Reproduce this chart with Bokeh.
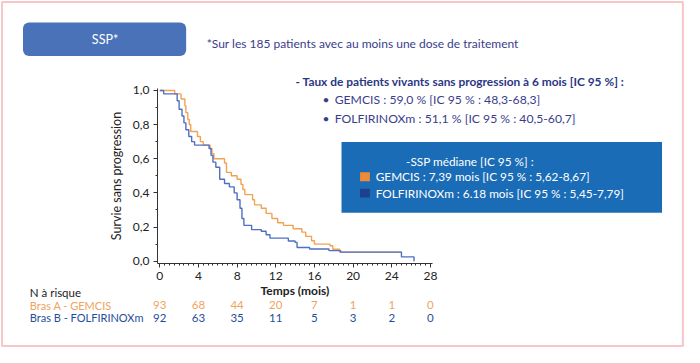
from bokeh.plotting import figure
from bokeh.models import Label, BoxAnnotation, FixedTicker, CustomJSTickFormatter, Range1d
from bokeh.embed import file_html
from bokeh.resources import INLINE

# ---------------- data ----------------
gem_t = [0, 1.55, 2.2, 2.6, 2.7, 2.9, 3.05, 3.2, 3.9, 4.2, 4.5, 5.2, 5.4, 5.6, 6.7, 6.9, 7.4, 8.0, 8.4, 8.6,
         8.8, 9.6, 9.8, 10.5, 11.0, 11.6, 12.2, 12.8, 13.8, 14.7, 15.1, 15.7, 16.0, 17.6, 17.9, 18.6, 25.0]
gem_s = [1.0, 0.98, 0.95, 0.91, 0.87, 0.83, 0.80, 0.76, 0.73, 0.70, 0.68, 0.66, 0.63, 0.60, 0.575, 0.52, 0.50, 0.48, 0.45, 0.42,
         0.39, 0.36, 0.33, 0.31, 0.28, 0.25, 0.225, 0.21, 0.19, 0.17, 0.145, 0.12, 0.10, 0.09, 0.07, 0.053, 0.053]
fol_t = [0, 0.4, 1.8, 2.0, 2.3, 2.5, 2.7, 3.0, 3.3, 3.6, 5.1, 5.3, 5.5, 5.8, 6.2, 6.7, 7.2, 7.7, 8.0, 8.3,
         8.5, 8.7, 9.5, 10.5, 11.0, 11.4, 13.3, 14.0, 14.2, 15.5, 17.5, 18.7, 25.0, 26.3]
fol_s = [1.0, 0.98, 0.94, 0.89, 0.85, 0.81, 0.77, 0.73, 0.70, 0.68, 0.66, 0.62, 0.58, 0.55, 0.48, 0.455, 0.435, 0.40, 0.36, 0.31,
         0.25, 0.21, 0.185, 0.175, 0.155, 0.135, 0.118, 0.11, 0.08, 0.071, 0.062, 0.053, 0.025, 0.0]
x_ticks = [0, 4, 8, 12, 16, 20, 24, 28]
y_ticks = [0.0, 0.2, 0.4, 0.6, 0.8, 1.0]
risk_gem = [93, 68, 44, 20, 7, 1, 1, 0]
risk_fol = [92, 63, 35, 11, 5, 3, 2, 0]
arm_names = ["Bras A - GEMCIS", "Bras B - FOLFIRINOXm"]
title_text = "SSP*"
note_text = "*Sur les 185 patients avec au moins une dose de traitement"
rate_header = "- Taux de patients vivants sans progression à 6 mois [IC 95 %] :"
rate_lines = ["GEMCIS : 59,0 % [IC 95 % : 48,3-68,3]", "FOLFIRINOXm : 51,1 % [IC 95 % : 40,5-60,7]"]
median_header = "-SSP médiane [IC 95 %] :"
median_lines = ["GEMCIS : 7,39 mois [IC 95 % : 5,62-8,67]", "FOLFIRINOXm : 6.18 mois [IC 95 % : 5,45-7,79]"]

# ---------------- layout ----------------
W, H = 684, 347
# slide geometry (reference pixels): x=0 month at 163, 9.893 px per month; y=0 at 272.7, 178.6 px per unit
RX0, RPX = 163.0, 9.893
RY0, RPY = 272.7, 178.6

def dx(rx):
    return (rx - RX0) / RPX

def dy(ry):
    return (RY0 - ry) / RPY

FONT = "Lato"
ORANGE_LINE = "#f2a253"
BLUE_LINE = "#506fc3"
ORANGE_TXT = "#eea45f"
NAVY_TXT = "#1f4e9c"
INK = "#3a3d8c"

p = figure(width=W, height=H, output_backend="svg", toolbar_location=None,
           x_range=Range1d(dx(0), dx(700)), y_range=Range1d(dy(363), dy(0)),
           min_border=0)
p.outline_line_color = None
p.xgrid.visible = False
p.ygrid.visible = False
p.background_fill_color = "white"
p.border_fill_color = "white"

p.step(gem_t, gem_s, mode="after", line_color=ORANGE_LINE, line_width=1.4)
p.step(fol_t, fol_s, mode="after", line_color=BLUE_LINE, line_width=1.4)

xa = p.xaxis[0]
xa.fixed_location = -0.015
xa.bounds = (-0.25, 28.25)
xa.ticker = FixedTicker(ticks=x_ticks, minor_ticks=[i * 0.5 for i in range(57)])
xa.axis_label = "Temps (mois)"
xa.axis_label_text_font = FONT
xa.axis_label_text_font_style = "bold"
xa.axis_label_text_font_size = "12px"
xa.axis_label_text_color = "#222222"
xa.axis_label_standoff = 0
xa.major_label_text_font = FONT
xa.major_label_text_font_size = "12px"
xa.major_label_text_color = "#222222"
xa.major_label_standoff = 4

ya = p.yaxis[0]
ya.fixed_location = -0.25
ya.bounds = (-0.015, 1.01)
ya.ticker = FixedTicker(ticks=y_ticks, minor_ticks=[i * 0.1 for i in range(11)])
ya.formatter = CustomJSTickFormatter(code="return tick.toFixed(1).replace('.', ',');")
ya.axis_label = "Survie sans progression"
ya.axis_label_text_font = FONT
ya.axis_label_text_font_style = "normal"
ya.axis_label_text_font_size = "12.5px"
ya.axis_label_text_color = "#222222"
ya.axis_label_standoff = 6
ya.major_label_text_font = FONT
ya.major_label_text_font_size = "12px"
ya.major_label_text_color = "#222222"
ya.major_label_standoff = 4

for ax in (xa, ya):
    ax.axis_line_color = "#333333"
    ax.major_tick_line_color = "#333333"
    ax.minor_tick_line_color = "#333333"
    ax.major_tick_out = 4
    ax.major_tick_in = 0
    ax.minor_tick_out = 2
    ax.minor_tick_in = 0

# frame around the whole slide
p.add_layout(BoxAnnotation(left=dx(1.6), right=dx(698.4), top=dy(1.6), bottom=dy(361.4),
                           fill_alpha=0, line_color="#e8414b", line_width=2))

# title button
p.add_layout(BoxAnnotation(left=dx(23), right=dx(190), top=dy(23), bottom=dy(58),
                           fill_color="#4a72b8", fill_alpha=1, line_color=None, border_radius=6))
p.add_layout(Label(x=dx(107), y=dy(41), text=title_text, text_align="center", text_baseline="middle",
                   text_font=FONT, text_font_size="12.5px", text_color="white"))
p.add_layout(Label(x=dx(211), y=dy(45), text=note_text, text_align="left", text_baseline="middle",
                   text_font=FONT, text_font_size="12px", text_color=INK))

# 6-month rate
p.add_layout(Label(x=dx(302), y=dy(85), text=rate_header, text_align="left", text_baseline="middle",
                   text_font=FONT, text_font_size="11.9px", text_font_style="bold", text_color="#2b3785"))
for txt, ry in zip(rate_lines, [104, 123]):
    p.add_layout(Label(x=dx(333), y=dy(ry), text="•", text_align="center", text_baseline="middle",
                       text_font=FONT, text_font_size="12px", text_color=INK))
    p.add_layout(Label(x=dx(342), y=dy(ry), text=txt, text_align="left", text_baseline="middle",
                       text_font=FONT, text_font_size="12.2px", text_color=INK))

# median box
p.add_layout(BoxAnnotation(left=dx(349), right=dx(677), top=dy(148), bottom=dy(222),
                           fill_color="#1a6cb6", fill_alpha=1, line_color=None))
p.add_layout(Label(x=dx(415), y=dy(168), text=median_header, text_align="left", text_baseline="middle",
                   text_font=FONT, text_font_size="11.8px", text_color="white"))
for txt, ry, col in zip(median_lines, [184.5, 201.5], ["#f08a35", "#1f3f8f"]):
    p.add_layout(BoxAnnotation(left=dx(368), right=dx(378), top=dy(ry - 4.7), bottom=dy(ry + 4.7),
                               fill_color=col, fill_alpha=1, line_color=None))
    p.add_layout(Label(x=dx(384), y=dy(ry), text=txt, text_align="left", text_baseline="middle",
                       text_font=FONT, text_font_size="11.8px", text_color="white"))

# number at risk
p.add_layout(Label(x=dx(30), y=dy(305), text="N à risque", text_align="left", text_baseline="middle",
                   text_font=FONT, text_font_size="11.5px", text_color="#222222"))
for name, counts, ry, col in zip(arm_names, [risk_gem, risk_fol], [319, 332], [ORANGE_TXT, NAVY_TXT]):
    p.add_layout(Label(x=dx(30), y=dy(ry), text=name, text_align="left", text_baseline="middle",
                       text_font=FONT, text_font_size="11px", text_color=col))
    for xt, n in zip(x_ticks, counts):
        p.add_layout(Label(x=xt, y=dy(ry), text=str(n), text_align="center", text_baseline="middle",
                           text_font=FONT, text_font_size="11.5px", text_color=col))

open("out.html", "w").write(file_html(p, INLINE))
